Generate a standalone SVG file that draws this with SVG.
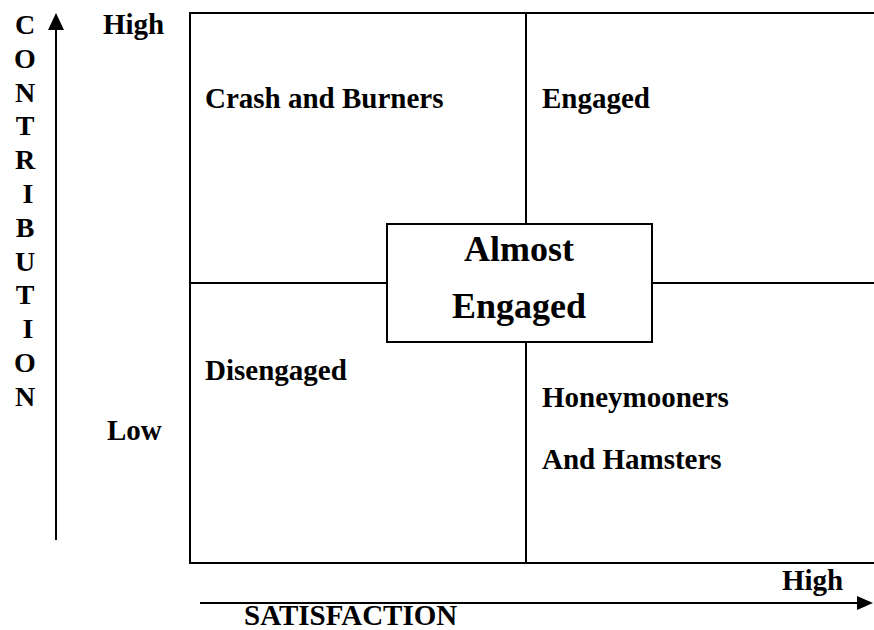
<svg xmlns="http://www.w3.org/2000/svg" width="874" height="630" viewBox="0 0 874 630">
<style>
.t{font-family:"Liberation Serif","Times New Roman",serif;font-weight:bold;font-size:29px;fill:#000}
.v{font-family:"Liberation Serif","Times New Roman",serif;font-weight:bold;font-size:28px;fill:#000;text-anchor:middle}
.big{font-family:"Liberation Serif","Times New Roman",serif;font-weight:bold;font-size:36px;fill:#000;text-anchor:middle}
.ln{stroke:#000;stroke-width:2;fill:none}
</style>
<rect width="874" height="630" fill="#fff"/>
<g id="grid">
<path class="ln" d="M190,13 H875 M190,12 V564 M189,563 H875"/>
<path class="ln" d="M526,13 V224 M526,342 V563 M190,283 H387 M652,283 H875"/>
</g>
<g id="connectors">
<line class="ln" x1="56" y1="540" x2="56" y2="27"/>
<polygon points="56,13 48,30 64,30" fill="#000"/>
<line class="ln" x1="200" y1="603" x2="858" y2="603"/>
<polygon points="873,603 857,596 857,610" fill="#000"/>
</g>
<g id="contribution-axis">
<text class="v" x="25" y="34">C</text>
<text class="v" x="25" y="68">O</text>
<text class="v" x="25" y="102">N</text>
<text class="v" x="25" y="135">T</text>
<text class="v" x="25" y="169">R</text>
<text class="v" x="28" y="203">I</text>
<text class="v" x="25" y="237">B</text>
<text class="v" x="25" y="271">U</text>
<text class="v" x="25" y="304">T</text>
<text class="v" x="28" y="338">I</text>
<text class="v" x="25" y="372">O</text>
<text class="v" x="25" y="406">N</text>
<text class="t" x="103" y="34">High</text>
<text class="t" x="107" y="440">Low</text>
</g>
<g id="satisfaction-axis">
<text class="t" x="782" y="590">High</text>
<text class="t" x="244" y="625">SATISFACTION</text>
</g>
<g id="crash-and-burners"><text class="t" x="205" y="108">Crash and Burners</text></g>
<g id="engaged"><text class="t" x="542" y="108">Engaged</text></g>
<g id="disengaged"><text class="t" x="205" y="380">Disengaged</text></g>
<g id="honeymooners">
<text class="t" x="542" y="407">Honeymooners</text>
<text class="t" x="542" y="469">And Hamsters</text>
</g>
<g id="almost-engaged">
<rect x="387" y="224" width="265" height="118" fill="#fff" stroke="#000" stroke-width="2"/>
<text class="big" x="519" y="261">Almost</text>
<text class="big" x="519" y="318">Engaged</text>
</g>
</svg>
